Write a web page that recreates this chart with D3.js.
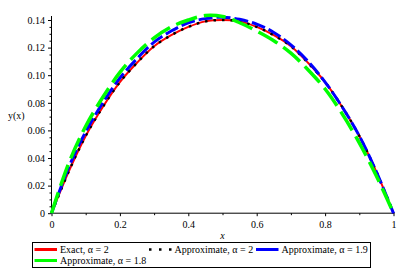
<!DOCTYPE html>
<html><head><meta charset="utf-8">
<script src="https://cdn.jsdelivr.net/npm/d3@7"></script>
<style>body{margin:0;background:#fff}svg{display:block}svg text{font-family:"Liberation Serif","Times New Roman","DejaVu Serif",serif !important;fill:#000}</style>
</head><body><svg id="c" width="406" height="273"></svg>
<script>
const xs = [0,0.05,0.1,0.15,0.2,0.25,0.3,0.35,0.4,0.45,0.5,0.55,0.6,0.65,0.7,0.75,0.8,0.85,0.9,0.95,1];
const exact2  = [0,0.030,0.056,0.077,0.095,0.109,0.121,0.129,0.135,0.139,0.140,0.139,0.135,0.129,0.121,0.109,0.095,0.077,0.056,0.030,0];
const approx2 = [0,0.030,0.056,0.077,0.095,0.109,0.121,0.129,0.135,0.139,0.140,0.139,0.135,0.129,0.121,0.109,0.095,0.077,0.056,0.030,0];
const approx19= [0,0.033,0.059,0.080,0.098,0.112,0.124,0.132,0.138,0.141,0.142,0.1405,0.137,0.131,0.122,0.110,0.095,0.077,0.056,0.030,0];
const approx18= [0,0.036,0.063,0.084,0.102,0.116,0.127,0.135,0.140,0.1432,0.1425,0.138,0.132,0.125,0.116,0.104,0.090,0.072,0.051,0.027,0];
const xTicks = [0,0.2,0.4,0.6,0.8,1];
const xTickLabels = ["0","0.2","0.4","0.6","0.8","1"];
const yTicks = [0,0.02,0.04,0.06,0.08,0.10,0.12,0.14];
const yTickLabels = ["0","0.02","0.04","0.06","0.08","0.10","0.12","0.14"];
const seriesNames = ["Exact, α = 2","Approximate, α = 2","Approximate, α = 1.9","Approximate, α = 1.8"];

const FONT = "Liberation Serif, Times New Roman, serif";
const svg = d3.select("#c");
const x = d3.scaleLinear().domain([0,1]).range([51.5,393.5]);
const y = d3.scaleLinear().domain([0,0.14]).range([213.2,20]);

const g = svg.append("g");
g.append("line").attr("x1",x(0)).attr("x2",x(1)+1).attr("y1",y(0)).attr("y2",y(0)).attr("stroke","#000");
g.append("line").attr("x1",x(0)).attr("x2",x(0)).attr("y1",y(0)).attr("y2",16).attr("stroke","#000");

const xAxis = d3.axisBottom(x).tickValues(xTicks).tickFormat((d,i)=>xTickLabels[i]).tickSize(3).tickSizeOuter(0);
const xg = svg.append("g").attr("transform",`translate(0,${y(0)})`).call(xAxis).attr("font-family",FONT);
xg.select(".domain").remove();
xg.selectAll("text").attr("font-size",10).attr("dy","0.9em").attr("font-family",FONT);
const xMinor = d3.axisBottom(x).tickValues([0.1,0.3,0.5,0.7,0.9]).tickFormat("").tickSize(2).tickSizeOuter(0);
svg.append("g").attr("transform",`translate(0,${y(0)})`).call(xMinor).select(".domain").remove();

const yAxis = d3.axisLeft(y).tickValues(yTicks).tickFormat((d,i)=>yTickLabels[i]).tickSize(3.5).tickSizeOuter(0).tickPadding(3);
const yg = svg.append("g").attr("transform",`translate(${x(0)},0)`).call(yAxis).attr("font-family",FONT);
yg.select(".domain").remove();
yg.selectAll("text").attr("font-size",10).attr("font-family",FONT);
const yMinorVals = d3.range(0,0.1401,0.005).filter(v=>Math.abs(v/0.02-Math.round(v/0.02))>1e-6);
const yMinor = d3.axisLeft(y).tickValues(yMinorVals).tickFormat("").tickSize(2).tickSizeOuter(0);
svg.append("g").attr("transform",`translate(${x(0)},0)`).call(yMinor).select(".domain").remove();

svg.append("text").attr("x",8).attr("y",118.5).attr("font-size",10).attr("font-family",FONT).text("y(x)");
svg.append("text").attr("x",222.5).attr("y",239).attr("font-size",10).attr("font-family",FONT).attr("font-style","italic").attr("text-anchor","middle").text("x");

const styles = [
  {data:exact2,  color:"#ff0000", w:2,   dash:null},
  {data:approx2, color:"#000000", w:2.5, dash:"2.5,6"},
  {data:approx19,color:"#0000ff", w:3,   dash:"14,4"},
  {data:approx18,color:"#00ff00", w:3.5, dash:"22,7"}
];
const line = d3.line().x((d,i)=>x(xs[i])).y(d=>y(d)).curve(d3.curveCatmullRom);
styles.forEach(s=>{
  svg.append("path").attr("d",line(s.data)).attr("fill","none").attr("stroke",s.color)
    .attr("stroke-width",s.w).attr("stroke-dasharray",s.dash);
});

const lg = svg.append("g");
lg.append("rect").attr("x",32.5).attr("y",242.5).attr("width",338).attr("height",25).attr("fill","#fff").attr("stroke","#000");
const items = [
  {x:34.5, y:249.5, i:0},
  {x:149, y:249.5, i:1},
  {x:256, y:249.5, i:2},
  {x:34.5, y:260.5, i:3}
];
items.forEach(it=>{
  const s = styles[it.i];
  lg.append("line").attr("x1",it.x).attr("x2",it.x+22.5).attr("y1",it.y).attr("y2",it.y)
    .attr("stroke",s.color).attr("stroke-width",it.i===1?2.5:3).attr("stroke-dasharray",it.i===1?"2.5,7.5":null);
  lg.append("text").attr("x",it.x+25.5).attr("y",it.y+3.5).attr("font-size",10).attr("font-family",FONT).text(seriesNames[it.i]);
});
</script></body></html>
